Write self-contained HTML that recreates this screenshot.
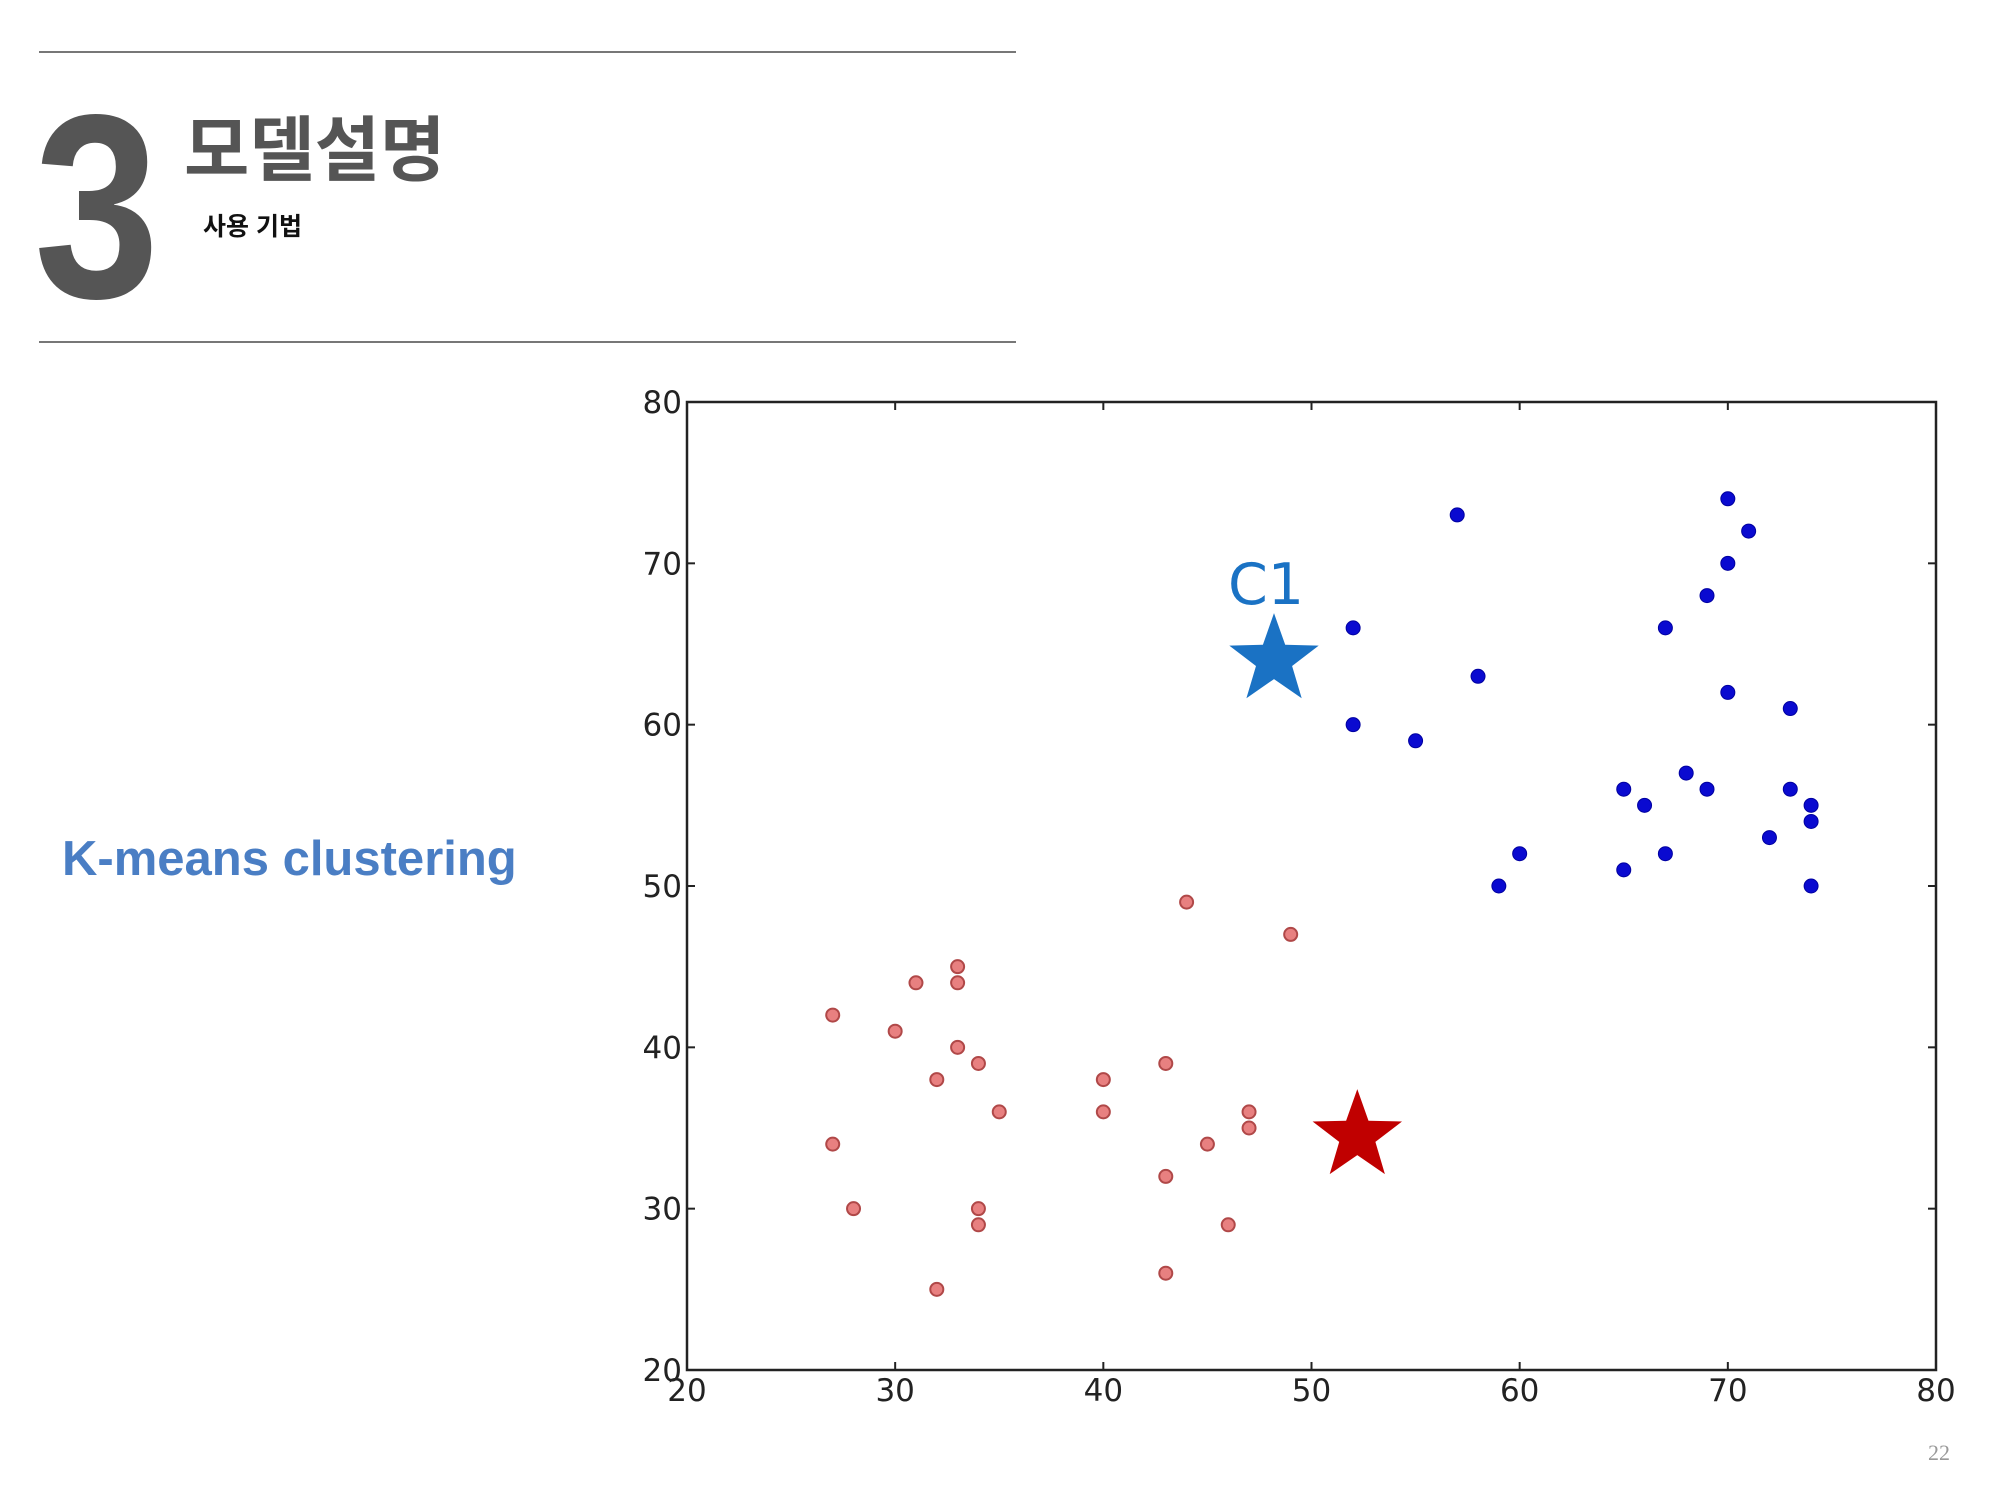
<!DOCTYPE html>
<html><head><meta charset="utf-8"><style>
html,body{margin:0;padding:0;background:#fff;width:2000px;height:1500px;overflow:hidden;position:relative;font-family:"Liberation Sans","Noto Sans CJK KR",sans-serif}
.abs{position:absolute}
</style></head><body>
<div class="abs" style="left:39px;top:51px;width:977px;height:2px;background:#777"></div>
<div class="abs" style="left:39px;top:341px;width:977px;height:2px;background:#777"></div>
<div class="abs" style="left:34px;top:76px;font-size:262px;font-weight:bold;color:#555;line-height:1;transform:scaleX(0.86);transform-origin:0 0;font-family:'Liberation Sans',sans-serif">3</div>
<div class="abs" style="left:184px;top:113px;font-size:71px;font-weight:bold;color:#555;line-height:1.1;font-family:'Liberation Sans','Noto Sans CJK KR',sans-serif">모델설명</div>
<div class="abs" style="left:203px;top:214px;font-size:25px;font-weight:bold;color:#111;line-height:1.1;font-family:'Liberation Sans','Noto Sans CJK KR',sans-serif">사용 기법</div>
<div class="abs" style="left:62px;top:830px;font-size:49px;font-weight:bold;color:#4a7ec4;line-height:1.2;letter-spacing:0px">K-means clustering</div>
<div class="abs" style="left:1928px;top:1440px;font-size:22px;color:#999;font-family:'Liberation Serif',serif">22</div>
<svg id="chart" class="abs" style="left:0;top:0" width="2000" height="1500"></svg>
<script>
const xTicks=[20,30,40,50,60,70,80];
const yTicks=[20,30,40,50,60,70,80];
const blueX=[57,52,58,52,55,70,71,70,69,67,70,73,68,65,69,66,73,74,74,72,60,67,65,59,74];
const blueY=[73,66,63,60,59,74,72,70,68,66,62,61,57,56,56,55,56,55,54,53,52,52,51,50,50];
const redX=[44,49,33,31,33,27,30,33,34,32,40,43,35,40,47,47,27,45,43,28,34,34,46,43,32];
const redY=[49,47,45,44,44,42,41,40,39,38,38,39,36,36,36,35,34,34,32,30,30,29,29,26,25];
const centroidX=[48.2,52.2];
const centroidY=[64,34.5];
const centroidLabels=["C1",""];
const L=687,R=1936,T=402,B=1370;
const sx=v=>L+(v-20)/60*(R-L);
const sy=v=>B-(v-20)/60*(B-T);
const svg=document.getElementById('chart');
const NS='http://www.w3.org/2000/svg';
function mk(tag,attrs){const e=document.createElementNS(NS,tag);for(const k in attrs)e.setAttribute(k,attrs[k]);svg.appendChild(e);return e;}
const frame=mk('rect',{x:L,y:T,width:R-L,height:B-T,fill:'none',stroke:'#222','stroke-width':2.5});


xTicks.forEach(t=>{
  const x=sx(t);
  mk('line',{x1:x,x2:x,y1:B,y2:B-8,stroke:'#222','stroke-width':2});
  mk('line',{x1:x,x2:x,y1:T,y2:T+8,stroke:'#222','stroke-width':2});
  const tx=mk('text',{x:x,y:B+31,'text-anchor':'middle','font-size':31,fill:'#222','font-family':'DejaVu Sans, sans-serif'});
  tx.textContent=t;
  
  
});
yTicks.forEach(t=>{
  const y=sy(t);
  mk('line',{x1:L,x2:L+8,y1:y,y2:y,stroke:'#222','stroke-width':2});
  mk('line',{x1:R,x2:R-8,y1:y,y2:y,stroke:'#222','stroke-width':2});
  const tx=mk('text',{x:L-5,y:y+11,'text-anchor':'end','font-size':31,fill:'#222','font-family':'DejaVu Sans, sans-serif'});
  tx.textContent=t;
  
  
});
redX.forEach((v,i)=>{
  const c=mk('circle',{cx:sx(v),cy:sy(redY[i]),r:6.5,fill:'#e88080',stroke:'#b04848','stroke-width':2});
  
  
});
blueX.forEach((v,i)=>{
  const c=mk('circle',{cx:sx(v),cy:sy(blueY[i]),r:7,fill:'#0a0ad0',stroke:'#0000a0','stroke-width':1});
  
  
});
function star(cx,cy,ro,ri){let p=[];for(let i=0;i<10;i++){const a=-Math.PI/2+i*Math.PI/5;const r=i%2?ri:ro;p.push((cx+r*Math.cos(a)).toFixed(1)+','+(cy+r*Math.sin(a)).toFixed(1));}return p.join(' ');}
const colors=['#1a72c4','#c00000'];
centroidX.forEach((v,i)=>{
  const cx=sx(v),cy=sy(centroidY[i]);
  const s=mk('polygon',{points:star(cx,cy,47,19),fill:colors[i]});
  
  
  if(centroidLabels[i]){
    const t=mk('text',{x:cx-8,y:cy-56,'text-anchor':'middle','font-size':57,fill:'#1a72c4','font-family':'DejaVu Sans, sans-serif'});
    t.textContent=centroidLabels[i];
    
    
  }
});
</script>
</body></html>
